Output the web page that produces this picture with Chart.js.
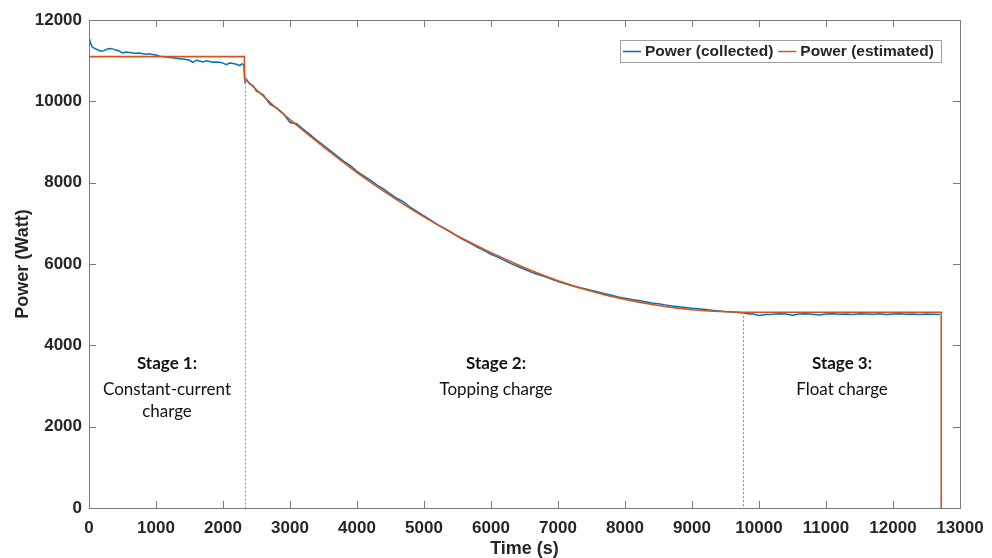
<!DOCTYPE html>
<html>
<head>
<meta charset="utf-8">
<script src="https://cdn.jsdelivr.net/npm/chart.js@4/dist/chart.umd.min.js"></script>
<style>
html,body{margin:0;padding:0;background:#fff;}
#wrap{width:992px;height:558px;position:relative;}
</style>
</head>
<body>
<div id="wrap"><canvas id="c"></canvas></div>
<script>
// ---- data ----
const xTicks = [0,1000,2000,3000,4000,5000,6000,7000,8000,9000,10000,11000,12000,13000];
const yTicks = [0,2000,4000,6000,8000,10000,12000];

const collT = [0,25,50,100,150,200,250,300,350,400,450,500,550,600,650,700,750,800,850,900,950,1000,1050,1100,1150,1200,1250,1300,1350,1400,1450,1500,1550,1600,1650,1700,1750,1800,1850,1900,1950,2000,2050,2100,2150,2200,2250,2280,2310,2330,2350,2400,2450,2500,2600,2700,2800,2900,3000,3100,3200,3300,3400,3500,3600,3700,3800,3900,4000,4100,4200,4300,4400,4500,4600,4700,4800,4900,5000,5100,5200,5300,5400,5500,5600,5700,5800,5900,6000,6100,6200,6300,6400,6500,6600,6700,6800,6900,7000,7100,7200,7300,7400,7500,7600,7700,7800,7900,8000,8100,8200,8300,8400,8500,8600,8700,8800,8900,9000,9100,9200,9300,9400,9500,9600,9700,9800,9850,9900,10000,10100,10200,10300,10400,10500,10600,10700,10800,10900,11000,11100,11200,11300,11400,11500,11600,11700,11800,11900,12000,12100,12200,12300,12400,12500,12600,12700];
const collP = [11580,11420,11330,11290,11250,11230,11270,11300,11290,11260,11240,11190,11210,11200,11190,11180,11190,11170,11160,11170,11150,11140,11110,11100,11090,11080,11070,11060,11050,11040,11030,11010,10960,11010,10990,10970,11000,10980,10960,10970,10960,10940,10900,10940,10930,10910,10880,10920,10900,10480,10540,10430,10380,10250,10160,9930,9840,9700,9480,9450,9310,9180,9040,8920,8790,8660,8530,8420,8280,8170,8060,7940,7840,7720,7610,7520,7390,7290,7180,7080,6970,6880,6790,6680,6590,6500,6410,6330,6240,6170,6090,6010,5940,5870,5800,5740,5690,5630,5570,5520,5470,5430,5390,5350,5310,5270,5230,5190,5160,5130,5100,5070,5040,5020,4995,4970,4950,4930,4910,4900,4880,4860,4845,4830,4820,4810,4790,4770,4775,4735,4760,4765,4775,4770,4740,4770,4775,4765,4745,4770,4775,4765,4770,4760,4775,4770,4765,4775,4760,4770,4775,4765,4770,4760,4770,4765,4760];

const estT = [0,0,2320,2320,2500,2750,3000,3250,3500,3750,4000,4250,4500,4750,5000,5250,5500,5750,6000,6250,6500,6750,7000,7250,7500,7750,8000,8250,8500,8750,9000,9250,9500,9750,12720,12720];
const estP = [0,11100,11100,10560,10285,9900,9550,9210,8880,8560,8250,7960,7680,7410,7160,6920,6690,6480,6280,6090,5910,5740,5590,5450,5330,5220,5130,5050,4980,4920,4875,4845,4825,4815,4815,0];

const seriesNames = ['Power (collected)','Power (estimated)'];
const seriesColors = ['#0072BD','#D95319'];

const stageBounds = [2328, 9766];
const stageBoundTop = [10560, 4815];
const stageTitles = ['Stage 1:','Stage 2:','Stage 3:'];
const stageDesc = [['Constant-current','charge'],['Topping charge'],['Float charge']];
const stageLabelX = [1164, 6075, 11239];
const stageLabelY = 3550;

// ---- build ----
const toXY = (t,p) => t.map((v,i)=>({x:v,y:p[i]}));
const AX = '#262626';
const BOX = '#7a7a7a';

const overlay = {
  id:'overlay',
  afterDatasetsDraw(chart){
    const {ctx, chartArea:a, scales:{x,y}} = chart;
    ctx.save();
    // dotted stage boundaries
    ctx.strokeStyle = '#8a8a8a';
    ctx.lineWidth = 1;
    ctx.setLineDash([2,2]);
    stageBounds.forEach((t,i)=>{
      const px = Math.round(x.getPixelForValue(t))+0.5;
      ctx.beginPath();
      ctx.moveTo(px, y.getPixelForValue(stageBoundTop[i]));
      ctx.lineTo(px, y.getPixelForValue(0));
      ctx.stroke();
    });
    ctx.setLineDash([]);
    // box
    ctx.strokeStyle = BOX;
    ctx.lineWidth = 1;
    ctx.strokeRect(Math.round(a.left)+0.5, Math.round(a.top)+0.5, Math.round(a.right-a.left), Math.round(a.bottom-a.top));
    // inward ticks
    const tl = 7;
    ctx.beginPath();
    x.ticks.forEach(tk=>{
      const px = Math.round(x.getPixelForValue(tk.value))+0.5;
      ctx.moveTo(px, a.bottom); ctx.lineTo(px, a.bottom-tl);
      ctx.moveTo(px, a.top); ctx.lineTo(px, a.top+tl);
    });
    y.ticks.forEach(tk=>{
      const py = Math.round(y.getPixelForValue(tk.value))+0.5;
      ctx.moveTo(a.left, py); ctx.lineTo(a.left+tl, py);
      ctx.moveTo(a.right, py); ctx.lineTo(a.right-tl, py);
    });
    ctx.stroke();
    // stage labels
    ctx.fillStyle = '#111';
    ctx.textAlign = 'center';
    ctx.textBaseline = 'middle';
    stageTitles.forEach((s,i)=>{
      const cx = x.getPixelForValue(stageLabelX[i]);
      const cy = y.getPixelForValue(stageLabelY);
      ctx.font = 'bold 17px Lato';
      ctx.fillText(s, cx, cy);
      ctx.font = '17px Lato';
      stageDesc[i].forEach((d,j)=>{
        ctx.fillText(d, cx, cy + 26 + 22*j);
      });
    });
    // legend
    const lx = 620, ly = 40, lw = 321, lh = 22;
    ctx.fillStyle = '#fff';
    ctx.fillRect(lx, ly, lw, lh);
    ctx.strokeStyle = '#a0a0a0';
    ctx.strokeRect(lx+0.5, ly+0.5, lw, lh);
    ctx.font = 'bold 15.5px "Liberation Sans", Arial, sans-serif';
    ctx.textAlign = 'left';
    ctx.textBaseline = 'middle';
    let cx = lx + 3;
    const cy = ly + lh/2 + 0.5;
    seriesNames.forEach((n,i)=>{
      ctx.strokeStyle = seriesColors[i];
      ctx.lineWidth = 1.5;
      ctx.beginPath(); ctx.moveTo(cx, cy); ctx.lineTo(cx+18, cy); ctx.stroke();
      ctx.fillStyle = AX;
      ctx.fillText(n, cx+22, cy);
      cx += 22 + ctx.measureText(n).width + 5;
    });
    ctx.restore();
  }
};

const tickFont = {family:'"Liberation Sans", Arial, sans-serif', size:17, weight:'bold'};
const titleFont = {family:'"Liberation Sans", Arial, sans-serif', size:18, weight:'bold'};

new Chart(document.getElementById('c'), {
  type:'scatter',
  data:{
    datasets:[
      {label:seriesNames[0], data:toXY(collT,collP), showLine:true, borderColor:seriesColors[0], borderWidth:1.5, pointRadius:0, tension:0, order:1},
      {label:seriesNames[1], data:toXY(estT,estP), showLine:true, borderColor:seriesColors[1], borderWidth:1.6, pointRadius:0, tension:0, order:0}
    ]
  },
  options:{
    responsive:true, maintainAspectRatio:false, animation:false,
    layout:{padding:{top:20, right:32, bottom:0, left:0}},
    plugins:{legend:{display:false}, tooltip:{enabled:false}},
    scales:{
      x:{
        type:'linear', min:0, max:13000,
        afterBuildTicks:(s)=>{ s.ticks = xTicks.map(v=>({value:v})); },
        afterFit:(s)=>{ s.height = 50; },
        grid:{display:false}, border:{display:false},
        ticks:{font:tickFont, color:AX, padding:2, maxRotation:0, autoSkip:false, callback:(v)=>String(v)},
        title:{display:true, text:'Time (s)', font:titleFont, color:AX, padding:{top:0,bottom:-2}}
      },
      y:{
        type:'linear', min:0, max:12000,
        afterBuildTicks:(s)=>{ s.ticks = yTicks.map(v=>({value:v})); },
        afterFit:(s)=>{ s.width = 89; },
        grid:{display:false}, border:{display:false},
        ticks:{font:tickFont, color:AX, padding:-1, autoSkip:false, callback:(v)=>String(v)},
        title:{display:true, text:'Power (Watt)', font:titleFont, color:AX, padding:{top:12,bottom:0}}
      }
    }
  },
  plugins:[overlay]
});
</script>
</body>
</html>
